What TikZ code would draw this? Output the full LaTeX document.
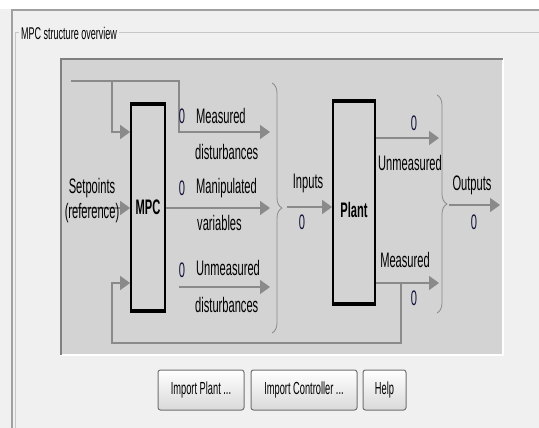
\documentclass[tikz,border=0pt]{standalone}
\usepackage{fontspec}
\setmainfont{Liberation Sans}[FakeStretch=0.53]
\usetikzlibrary{arrows.meta, calc, decorations.pathreplacing}
\definecolor{wingray}{HTML}{F0F0F0}
\definecolor{panelgray}{HTML}{D3D3D3}
\definecolor{flowgray}{HTML}{8A8A8A}
\definecolor{framegray}{HTML}{A0A0A0}
\definecolor{zeroblue}{HTML}{10103A}
\definecolor{btnedge}{HTML}{707070}
\definecolor{btnbottom}{HTML}{D9D9D9}
\tikzset{
  flow/.style={-{Triangle[length=10pt, width=14pt]}, line width=1.6pt, color=flowgray},
  ubrace/.style={decorate, decoration={brace, amplitude=10pt}, line width=0.8pt, color=flowgray},
  block/.style={draw=black, line width=1.8pt, fill=panelgray, inner sep=0pt},
  lbl/.style={font=\fontsize{21}{21}\selectfont, inner sep=0pt},
  zero/.style={lbl, text=zeroblue},
  btn/.style={draw=btnedge, line width=1pt, rounded corners=2.5pt, top color=white, bottom color=btnbottom,
    minimum height=40pt, font=\fontsize{17.5}{18}\selectfont, inner sep=0pt}
}

\begin{document}
\begin{tikzpicture}[x=1pt, y=-1pt]
\useasboundingbox (0,0) rectangle (539,428);
\fill[wingray] (0,0) rectangle (539,428);
\fill[white] (0,0) rectangle (539,9);
% window and group frame
\draw[framegray, line width=1.2pt] (12,428) -- (12,10) -- (539,10);
\draw[framegray!60, line width=1pt] (15,428) -- (15,33) -- (539,33);
\node[fill=wingray, inner sep=2pt, anchor=west, font=\fontsize{17}{17}\selectfont] (title) at (19,33) {MPC structure overview};
% panel
\fill[panelgray] (60,58) rectangle (503,355);
\draw[white, line width=2pt] (60,355) -- (503,355) -- (503,58);
\draw[gray, line width=2pt] (61,355) -- (61,59) -- (503,59);

% blocks
\node[block, minimum width=34pt, minimum height=205pt, font=\fontsize{21}{21}\selectfont\bfseries] (mpc) at (148,207.5) {MPC};
\node[block, minimum width=42pt, minimum height=201pt] (plant) at (354,202.5) {};
\node[lbl, font=\fontsize{21}{21}\selectfont\bfseries] (plantlbl) at (354,210) {Plant};
\foreach \b in {mpc, plant} {
  \draw[line width=4.5pt] (\b.north west) -- (\b.north east);
  \draw[line width=4.5pt] (\b.south west) -- (\b.south east);
}

% points on the flows
\coordinate (sp) at (71,208);
\coordinate (fbtop) at (71,81);
\coordinate (fbsplit) at (112,81);
\coordinate (tap) at (179,81);
\coordinate (md) at (270,132);
\coordinate (mv) at (270,208);
\coordinate (udstart) at (179,287);
\coordinate (ud) at (270,287);
\coordinate (mtap) at (401,283);
\coordinate (fbbottom) at (112,343);
\coordinate (inp) at (287,207);
\coordinate (uo) at (439,138);
\coordinate (mo) at (439,283);
\coordinate (outs) at (449,205);
\coordinate (oute) at (500,205);

% controller side
\draw[flow] (sp) -- (sp -| mpc.west);
\draw[flow] (fbtop) -- (tap) |- (md);
\draw[flow] (fbsplit) |- (mpc.west |- md);
\draw[flow] (mpc.east |- mv) -- (mv);
\draw[flow] (udstart) -- (ud);
\draw[flow] (mtap) |- (fbbottom) |- (mpc.west |- mtap);
\draw[ubrace] (272,83) -- (272,333);

% plant side
\draw[flow] (inp) -- (inp -| plant.west);
\draw[flow] (plant.east |- uo) -- (uo);
\draw[flow] (plant.east |- mo) -- (mo);
\draw[ubrace] (437,95) -- (437,313);
\draw[flow] (outs) -- (oute);

% labels
\node[lbl] (setpt) at (92,188) {Setpoints};
\node[lbl] (ref) at (92,213) {(reference)};
\node[zero] (zmd) at (182,116) {0};
\node[lbl, anchor=west] (mdtxt) at (196,116) {Measured};
\node[lbl, anchor=west] (mdtxt2) at (195,152) {disturbances};
\node[zero] (zmv) at (182,188) {0};
\node[lbl, anchor=west] (mvtxt) at (196,188) {Manipulated};
\node[lbl, anchor=west] (mvtxt2) at (197,223) {variables};
\node[zero] (zud) at (182,270) {0};
\node[lbl, anchor=west] (udtxt) at (196,268) {Unmeasured};
\node[lbl, anchor=west] (udtxt2) at (195,305) {disturbances};
\node[lbl] (inptxt) at (308,183) {Inputs};
\node[zero] (zinp) at (302,222) {0};
\node[zero] (zuo) at (414,123) {0};
\node[lbl] (uotxt) at (410,163) {Unmeasured};
\node[lbl] (motxt) at (405,260) {Measured};
\node[zero] (zmo) at (414,298) {0};
\node[lbl] (outtxt) at (472,185) {Outputs};
\node[zero] (zout) at (474,222) {0};

% buttons
\node[btn, minimum width=86pt] (impplant) at (201,390) {Import Plant ...};
\node[btn, minimum width=106pt] (impctrl) at (304,390) {Import Controller ...};
\node[btn, minimum width=43pt] (help) at (384.5,390) {Help};
\end{tikzpicture}
\end{document}
